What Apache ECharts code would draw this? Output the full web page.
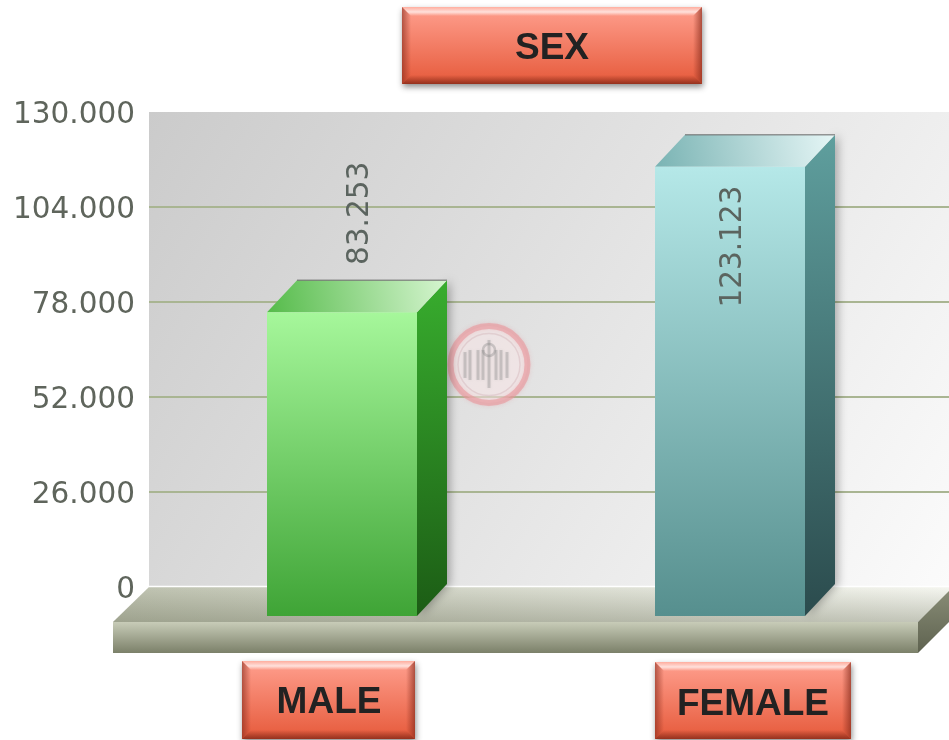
<!DOCTYPE html>
<html>
<head>
<meta charset="utf-8">
<title>SEX</title>
<script src="https://cdn.jsdelivr.net/npm/echarts@6/dist/echarts.min.js"></script>
<style>
  html, body { margin: 0; padding: 0; background: #fff; }
  #chart { width: 949px; height: 740px; }
</style>
</head>
<body>
<div id="chart"></div>
<script>
  // values (the dot in the labels is a thousands separator)
  const chartTitle = 'SEX';
  const categories = ['MALE', 'FEMALE'];
  const values = [83253, 123123];
  const axisMax = 130000;
  const axisStep = 26000;

  const grad = (x, y, x2, y2, c0, c1) => new echarts.graphic.LinearGradient(x, y, x2, y2, [
    { offset: 0, color: c0 }, { offset: 1, color: c1 }
  ]);

  // colours of the box faces, one entry per category
  const FACES = [
    { front: ['#a6f79b', '#3fa436'], side: ['#38ad2e', '#1c5c15'], top: ['#55bb4a', '#d6f5d0'] },
    { front: ['#b5e8e8', '#568f8e'], side: ['#5f9f9e', '#2b4b4d'], top: ['#79b3b3', '#e6f6f6'] }
  ];
  const BAR_WIDTH = 150;
  const DEPTH_X = 30;
  const DEPTH_Y = 32;
  const FRONT_DROP = 29.5;  // the front face stands this far below the wall's baseline
  // where the rotated value label sits, relative to the middle of the front face's top edge
  const LABEL_SHIFT = [[18, -99], [3, 80]];

  function renderBox(params, api) {
    const i = api.value(0);
    const p = api.coord([i, api.value(1)]);
    const base = api.coord([i, 0]);
    const c = FACES[i];
    const l = p[0] - BAR_WIDTH / 2, r = l + BAR_WIDTH;
    const t = p[1] + FRONT_DROP, b = base[1] + FRONT_DROP - 0.5;
    const shadow = { shadowBlur: 10, shadowColor: 'rgba(0,0,0,0.3)', shadowOffsetX: 3 };
    return {
      type: 'group',
      children: [
        {
          type: 'polygon',
          shape: { points: [[r, t], [r + DEPTH_X, t - DEPTH_Y], [r + DEPTH_X, b - DEPTH_Y], [r, b]] },
          style: Object.assign({ fill: grad(0, 0, 0, 1, c.side[0], c.side[1]) }, shadow)
        },
        {
          type: 'polygon',
          shape: { points: [[l, t], [l + DEPTH_X, t - DEPTH_Y], [r + DEPTH_X, t - DEPTH_Y], [r, t]] },
          style: { fill: grad(0, 1, 1, 0, c.top[0], c.top[1]) }
        },
        {
          type: 'line',
          shape: { x1: l + DEPTH_X, y1: t - DEPTH_Y, x2: r + DEPTH_X, y2: t - DEPTH_Y },
          style: { stroke: 'rgba(110,110,110,0.7)', lineWidth: 1.5 }
        },
        {
          type: 'rect',
          shape: { x: l, y: t, width: BAR_WIDTH, height: b - t },
          style: { fill: grad(0, 0, 0, 1, c.front[0], c.front[1]) }
        },
        {
          type: 'text',
          x: p[0] + LABEL_SHIFT[i][0],
          y: t + LABEL_SHIFT[i][1],
          rotation: Math.PI / 2,
          style: {
            text: fmt(api.value(1)),
            align: 'center',
            verticalAlign: 'middle',
            font: '29.5px "DejaVu Sans"',
            fill: '#5b645f'
          }
        }
      ]
    };
  }

  function fmt(v) {
    return String(v).replace(/\B(?=(\d{3})+$)/g, '.');
  }

  // bevelled red label plate: one gradient, with see-through bevel faces over it
  function button(x, y, w, h, text, cx, cy) {
    const e = 9;
    const face = (pts, g) => ({ type: 'polygon', z: 10, shape: { points: pts }, style: { fill: g } });
    const shine = new echarts.graphic.LinearGradient(0, 0, 0, 1, [
      { offset: 0, color: 'rgba(255,255,255,0.15)' },
      { offset: 0.55, color: 'rgba(255,255,255,0.7)' },
      { offset: 1, color: 'rgba(255,255,255,0)' }
    ]);
    return [
      {
        type: 'rect', z: 9,
        shape: { x: x, y: y, width: w, height: h },
        style: {
          fill: grad(0, 0, 0, 1, '#ff9f8e', '#e65a3b'),
          shadowBlur: 6, shadowColor: 'rgba(0,0,0,0.45)', shadowOffsetX: 1, shadowOffsetY: 3
        }
      },
      face([[x, y], [x + w, y], [x + w - e, y + e], [x + e, y + e]], shine),
      face([[x, y], [x + e, y + e], [x + e, y + h - e], [x, y + h]], grad(0, 0, 1, 0, 'rgba(130,40,25,0.6)', 'rgba(130,40,25,0)')),
      face([[x + w, y], [x + w - e, y + e], [x + w - e, y + h - e], [x + w, y + h]], grad(1, 0, 0, 0, 'rgba(130,40,25,0.65)', 'rgba(130,40,25,0)')),
      face([[x, y + h], [x + e, y + h - e], [x + w - e, y + h - e], [x + w, y + h]], grad(0, 1, 0, 0, 'rgba(120,35,20,0.75)', 'rgba(120,35,20,0)')),
      {
        type: 'text', z: 11, x: cx, y: cy,
        style: {
          text: text, align: 'center', verticalAlign: 'middle',
          font: 'bold 37px "Liberation Sans"', fill: '#222222'
        }
      }
    ];
  }

  // the slab the boxes stand on
  const floor = [
    {
      type: 'polygon', z: 1,
      shape: { points: [[149, 587], [960, 587], [918, 622], [113, 622]] },
      style: { fill: grad(0, 0, 1, 0, '#bec2b0', '#f6f7f1') }
    },
    {
      type: 'polygon', z: 1,
      shape: { points: [[149, 587], [960, 587], [918, 622], [113, 622]] },
      style: { fill: grad(0, 0, 0, 1, 'rgba(90,95,70,0)', 'rgba(90,95,70,0.32)') }
    },
    {
      type: 'line', z: 1,
      shape: { x1: 149, y1: 586.5, x2: 949, y2: 586.5 },
      style: { stroke: '#ffffff', lineWidth: 1.5 }
    },
    {
      type: 'rect', z: 1,
      shape: { x: 113, y: 622, width: 805, height: 31 },
      style: { fill: grad(0, 0, 0, 1, '#c8ccb8', '#7b8069') }
    },
    {
      type: 'polygon', z: 1,
      shape: { points: [[918, 622], [953, 587], [953, 618], [918, 653]] },
      style: { fill: grad(0, 0, 0, 1, '#8a8e78', '#5e624f') }
    }
  ];

  // faint round stamp on the wall
  const stamp = [
    {
      type: 'circle', z: 1,
      shape: { cx: 489, cy: 364.5, r: 38.5 },
      style: {
        fill: 'rgba(255,255,255,0.4)', stroke: 'rgba(232,150,155,0.6)', lineWidth: 6,
        shadowBlur: 4, shadowColor: 'rgba(232,150,155,0.5)'
      }
    },
    {
      type: 'circle', z: 1,
      shape: { cx: 489, cy: 364.5, r: 31 },
      style: { fill: 'none', stroke: 'rgba(200,160,165,0.3)', lineWidth: 1.5 }
    }
  ];
  [[465, 352, 378], [470, 350, 380], [478, 350, 380], [483, 350, 380], [496, 350, 380], [501, 350, 380], [507, 352, 378], [489, 340, 388]]
    .forEach(function (s) {
      stamp.push({
        type: 'line', z: 1,
        shape: { x1: s[0], y1: s[1], x2: s[0], y2: s[2] },
        style: { stroke: 'rgba(130,130,130,0.32)', lineWidth: 3, shadowBlur: 3, shadowColor: 'rgba(130,130,130,0.4)' }
      });
    });
  stamp.push({
    type: 'circle', z: 1,
    shape: { cx: 489, cy: 350, r: 6 },
    style: { fill: 'none', stroke: 'rgba(130,130,130,0.35)', lineWidth: 2.5 }
  });

  const chart = echarts.init(document.getElementById('chart'));
  chart.setOption({
    animation: false,
    backgroundColor: '#ffffff',
    grid: [
      // the wall with its gridlines
      {
        left: 149, right: 0, top: 112, bottom: 153, show: true, borderWidth: 0,
        backgroundColor: grad(0, 0, 1, 1, '#cbcbcb', '#fbfbfb')
      },
      // the boxes: bands of this grid put them where the picture has them
      { left: 148, width: 776, top: 112, bottom: 153 }
    ],
    xAxis: [
      { type: 'category', gridIndex: 0, data: categories, show: false },
      { type: 'category', gridIndex: 1, data: categories, show: false }
    ],
    yAxis: [
      {
        type: 'value', gridIndex: 0, min: 0, max: axisMax, interval: axisStep,
        axisLine: { show: false },
        axisTick: { show: false },
        axisLabel: {
          margin: 14,
          formatter: v => '{t|' + fmt(v) + '}',
          rich: {
            // labels sit a little under their gridlines
            t: {
              fontFamily: 'DejaVu Sans',
              fontSize: 29.5,
              color: '#5f655c',
              padding: [6, 0, 0, 0]
            }
          }
        },
        splitLine: { showMaxLine: false, lineStyle: { color: '#a9b592', width: 2 } }
      },
      { type: 'value', gridIndex: 1, min: 0, max: axisMax, interval: axisStep, show: false, splitLine: { show: false } }
    ],
    series: [
      {
        type: 'custom',
        xAxisIndex: 1,
        yAxisIndex: 1,
        z: 5,
        renderItem: renderBox,
        encode: { x: 0, y: 1 },
        data: values.map((v, i) => [i, v])
      }
    ],
    graphic: {
      elements: floor
        .concat(stamp)
        .concat(button(402, 7, 300, 77, chartTitle, 552, 49))
        .concat(button(242, 661, 173, 78, categories[0], 329, 703))
        .concat(button(655, 662, 196, 77, categories[1], 753, 705))
    }
  });
</script>
</body>
</html>
